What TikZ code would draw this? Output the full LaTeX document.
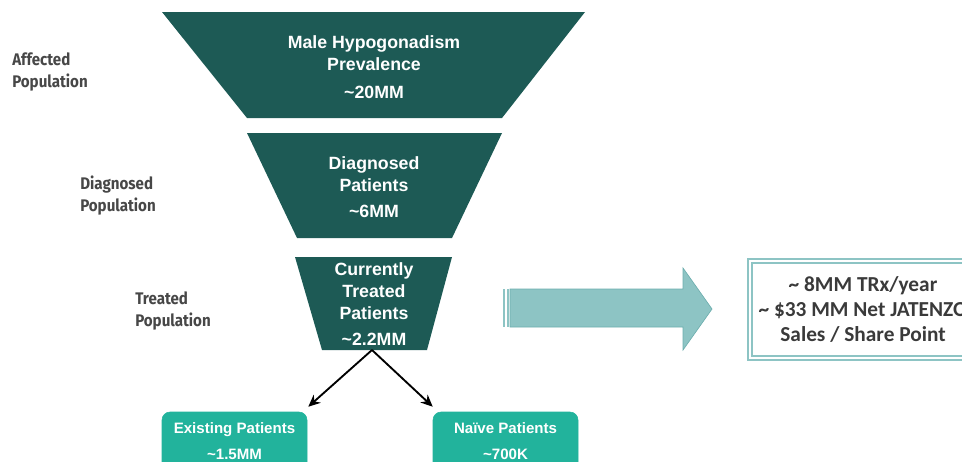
\documentclass[tikz,border=0pt]{standalone}
\usepackage{fontspec}
\setmainfont{Liberation Sans}
\newfontfamily\sidefont[FakeStretch=0.9]{Fira Sans}
\newfontfamily\calfont{Carlito}
\usepackage{tikz}
\usetikzlibrary{calc,arrows.meta}
\definecolor{funnel}{HTML}{1D5A55}
\definecolor{mint}{HTML}{22B39C}
\definecolor{pale}{HTML}{8DC4C4}
\definecolor{paleedge}{HTML}{6DAEAE}
\definecolor{side}{HTML}{474747}
\definecolor{ink}{HTML}{3A3A3A}
\tikzset{
  stage/.style={fill=funnel, draw=none},
  stagetxt/.style={text=white, align=center, font=\bfseries\fontsize{13.3}{16.5}\selectfont},
  sidelab/.style={anchor=west, text=side, align=left, inner sep=0pt, font=\sidefont\bfseries\fontsize{12.6}{16.5}\selectfont},
  split/.style={fill=mint, draw=mint, rounded corners=6pt, text=white, align=center,
    minimum width=108.75pt, minimum height=43.5pt, inner sep=0pt,
    font=\bfseries\fontsize{11.3}{19.5}\selectfont},
  flow/.style={draw=black, line width=1.4pt, -{Stealth[length=9pt,width=8pt]}},
  big/.style={fill=pale, draw=paleedge, line width=0.5pt},
  result/.style={draw=pale, double, double distance=2pt, line width=1pt, text=ink, align=center,
    minimum width=169.5pt, minimum height=72.75pt, inner sep=0pt,
    font=\calfont\bfseries\fontsize{16}{19}\selectfont},
}

\begin{document}
\begin{tikzpicture}[x=0.75pt, y=-0.75pt]
  \useasboundingbox (0,0) rectangle (962,461);
  \clip (0,0) rectangle (962,461);
  % funnel
  \fill[stage] (162,12) -- (585,12) -- (502,118) -- (247,118) -- cycle;
  \fill[stage] (247,133) -- (502,133) -- (452,238) -- (297,238) -- cycle;
  \fill[stage] (295,257) -- (452,257) -- (427,350) -- (322,350) -- cycle;
  \node[stagetxt] (prev) at (374,67) {Male Hypogonadism\\Prevalence\\[5pt]\textasciitilde20MM};
  \node[stagetxt] (diag) at (374,187) {Diagnosed\\Patients\\[3pt]\textasciitilde6MM};
  \node[stagetxt] (treat) at (374,304) {Currently\\Treated\\Patients\\[3pt]\textasciitilde2.2MM};
  \node[sidelab] (affpop) at (12,72) {Affected\\Population};
  \node[sidelab] (diagpop) at (80,196) {Diagnosed\\Population};
  \node[sidelab] (treatpop) at (135,311) {Treated\\Population};
  % split
  \coordinate (apex) at (372,350);
  \node[split] (exist) at (234.5,441) {Existing Patients\\\textasciitilde1.5MM};
  \node[split] (naive) at (505.5,441) {Naïve Patients\\\textasciitilde700K};
  \draw[flow] (apex) -- ($(exist.north east)+(1,-5)$);
  \draw[flow] (apex) -- ($(naive.north west)+(0,-5)$);
  % big arrow
  \foreach \s in {503,506.5} {\fill[pale] (\s,289) rectangle ++(2,38);}
  \draw[big] (510,289) -- (683,289) -- (683,268) -- (712,309) -- (683,350) -- (683,327) -- (510,327) -- cycle;
  \node[result] (sales) at (863,309.5) {\textasciitilde{} 8MM TRx/year\\\textasciitilde{} \$33 MM Net JATENZO\\Sales / Share Point};
\end{tikzpicture}
\end{document}
